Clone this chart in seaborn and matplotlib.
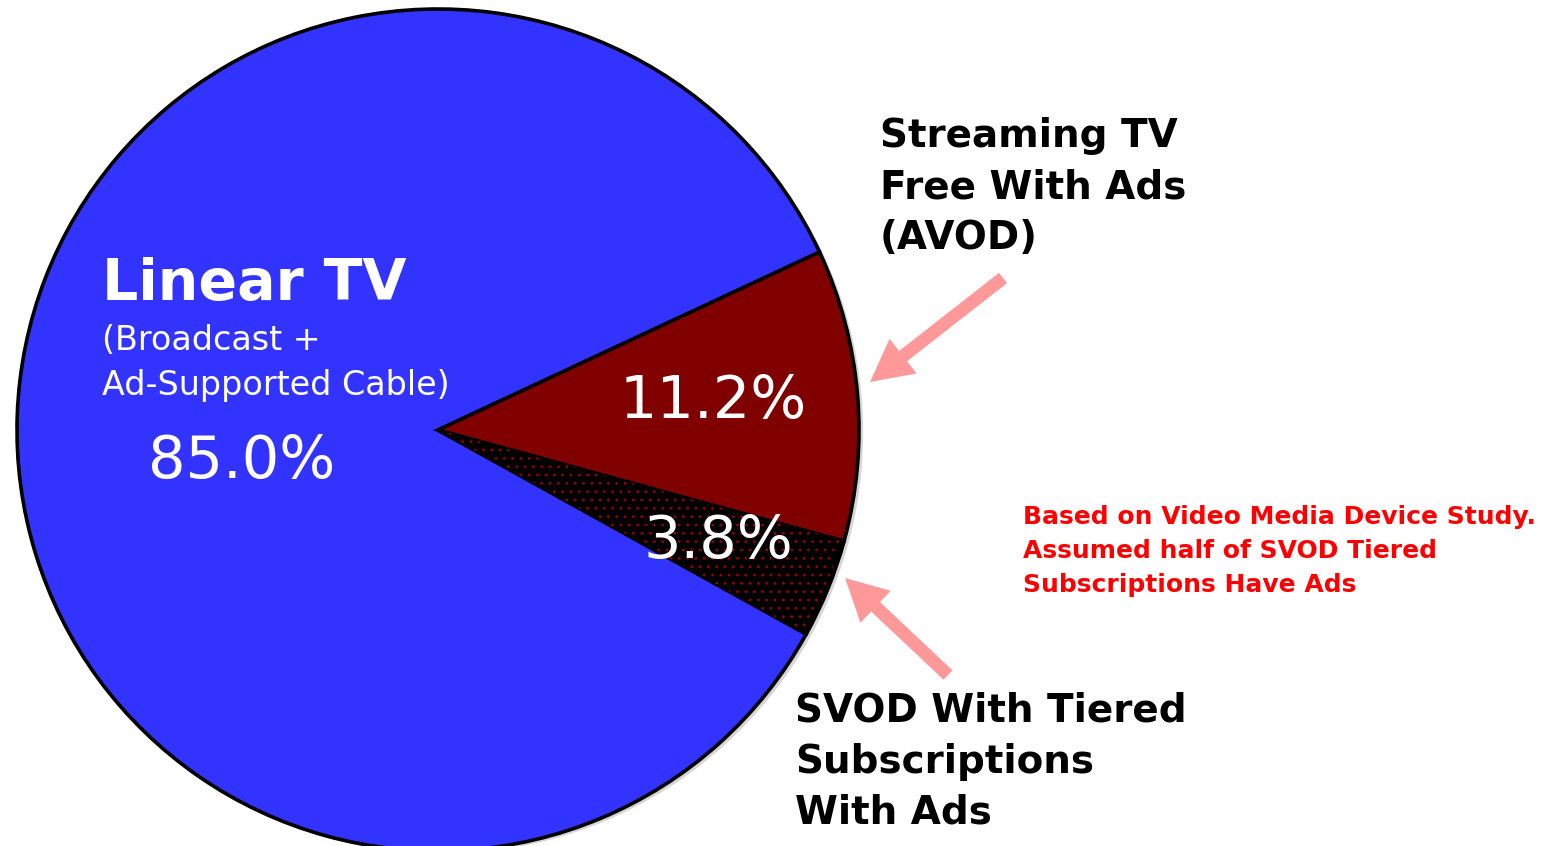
import numpy as np
import pandas as pd
import matplotlib.pyplot as plt
import seaborn as sns
from matplotlib.patches import Wedge


sns.set_theme(style="white")
plt.rcParams['font.family'] = ['DejaVu Sans']
plt.rcParams['hatch.linewidth'] = 0.8

# Data
labels = ['Linear TV', 'Streaming TV\nFree With Ads\n(AVOD)', 'SVOD With Tiered\nSubscriptions\nWith Ads']
shares = [85.0, 11.2, 3.8]
colors = ['#3333FF', '#800000', '#000000']
linear_sub = '(Broadcast +\nAd-Supported Cable)'
note = 'Based on Video Media Device Study.\nAssumed half of SVOD Tiered\nSubscriptions Have Ads'

W, H = 1555, 846
fig = plt.figure(figsize=(W / 100, H / 100), dpi=100)
ax = fig.add_axes([0, 0, 1, 1])

# Pie (data units = pixels, y measured from the bottom)
wedges, _ = ax.pie(shares, colors=colors, startangle=-29, counterclock=False,
                   center=(438, H - 430), radius=421, frame=True,
                   wedgeprops=dict(edgecolor='black', linewidth=2.6),
                   shadow=dict(ox=3, oy=-2, facecolor='0.55', edgecolor='none', alpha=0.35))

# dotted texture on the small slice
w = wedges[2]
ax.add_patch(Wedge(w.center, w.r - 3, w.theta1, w.theta2, fill=False, hatch='..',
                   edgecolor='#990000', linewidth=0))

ax.set_xlim(0, W)
ax.set_ylim(0, H)
ax.set_aspect('equal')
ax.axis('off')


def lines(txt, x, y0, step, **kw):
    # one text per line, y0 = baseline of first line in pixels from top
    for i, s in enumerate(txt.split('\n')):
        ax.text(x, H - (y0 + i * step), s, va='baseline', ha='left', **kw)


# Labels inside the pie
lines(labels[0], 102, 300, 0, color='white', fontsize=41, fontweight='bold')
lines(linear_sub, 102, 350, 45, color='white', fontsize=24)
ax.text(148, H - 478, f'{shares[0]:.1f}%', color='white', fontsize=42.5, va='baseline')
ax.text(620, H - 418, f'{shares[1]:.1f}%', color='white', fontsize=42.5, va='baseline')
ax.text(643, H - 558, f'{shares[2]:.1f}%', color='white', fontsize=42.5, va='baseline')

# Outside labels
lines(labels[1], 880, 147, 51, color='black', fontsize=28, fontweight='bold')
lines(labels[2], 795, 722, 51, color='black', fontsize=28, fontweight='bold')
lines(note, 1023, 524, 34, color='#FF0000', fontsize=18, fontweight='bold')

# Pointer arrows
arrow_kw = dict(width=13, head_width=44, head_length=42, length_includes_head=True,
                color='#FF9999', linewidth=0)
ax.arrow(1003, H - 278, 870 - 1003, (H - 382) - (H - 278), **arrow_kw)
ax.arrow(948, H - 675, 845 - 948, (H - 578) - (H - 675), **arrow_kw)

plt.savefig('out.png', dpi=100)
